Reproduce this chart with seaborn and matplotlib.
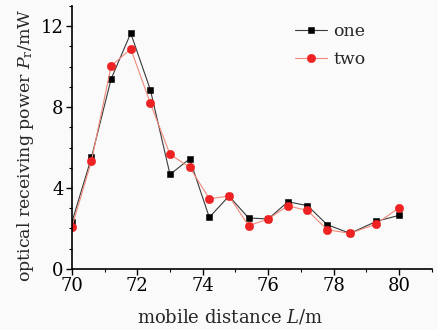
import numpy as np
import pandas as pd
import matplotlib
matplotlib.use("Agg")
import matplotlib.pyplot as plt
from matplotlib.ticker import MultipleLocator
import seaborn as sns

distance = [70.0, 70.6, 71.2, 71.8, 72.4, 73.0, 73.6, 74.2, 74.8, 75.4,
            76.0, 76.6, 77.2, 77.8, 78.5, 79.3, 80.0]
power_one = [2.31, 5.51, 9.39, 11.65, 8.85, 4.67, 5.44, 2.55, 3.60, 2.52,
             2.47, 3.32, 3.13, 2.19, 1.76, 2.35, 2.65]
power_two = [2.06, 5.34, 10.03, 10.88, 8.19, 5.66, 5.03, 3.47, 3.60, 2.14,
             2.47, 3.12, 2.89, 1.94, 1.76, 2.22, 3.03]
series_names = ["one", "two"]

sns.set_style("ticks")
plt.rcParams['font.family'] = ['DejaVu Serif']
plt.rcParams['mathtext.fontset'] = 'dejavuserif'

fig = plt.figure(figsize=(4.38, 3.30), dpi=100)
fig.patch.set_facecolor('#fafafa')
ax = fig.add_axes([0.164, 0.185, 0.822, 0.797])
ax.set_facecolor('#fafafa')

df_one = pd.DataFrame({"L": distance, "P": power_one})
df_two = pd.DataFrame({"L": distance, "P": power_two})

sns.lineplot(data=df_one, x="L", y="P", ax=ax, color='#3a3a3a', linewidth=0.8,
             marker='s', markersize=5, markerfacecolor='black',
             markeredgecolor='black', markeredgewidth=0.4, label=series_names[0])
sns.lineplot(data=df_two, x="L", y="P", ax=ax, color='#f08878', linewidth=0.8,
             marker='o', markersize=6, markerfacecolor='#ee2222',
             markeredgecolor='#ee2222', markeredgewidth=0.4, label=series_names[1])

ax.set_xlim(70, 81)
ax.set_ylim(0, 13)
ax.xaxis.set_major_locator(MultipleLocator(2))
ax.xaxis.set_minor_locator(MultipleLocator(1))
ax.yaxis.set_major_locator(MultipleLocator(4))
ax.yaxis.set_minor_locator(MultipleLocator(1))
sns.despine(ax=ax)
for s in ['left', 'bottom']:
    ax.spines[s].set_linewidth(1.2)
    ax.spines[s].set_color('black')
ax.tick_params(axis='both', which='major', direction='out', length=4, width=1,
               labelsize=13, pad=2, colors='black')
ax.tick_params(axis='both', which='minor', direction='out', length=2.5, width=0.8,
               colors='black')

ax.set_xlabel("mobile distance $L$/m", fontsize=13)
ax.xaxis.set_label_coords(0.44, -0.145)
ax.set_ylabel("optical receiving power $P_{\\mathrm{r}}$/mW", fontsize=12.5)
ax.yaxis.set_label_coords(-0.10, 0.47)

leg = ax.legend(loc='upper right', bbox_to_anchor=(0.86, 0.995), frameon=False,
                fontsize=12.5, handlelength=1.8, handletextpad=0.4, labelspacing=0.65)

fig.savefig("out.png", dpi=100, facecolor=fig.get_facecolor())
